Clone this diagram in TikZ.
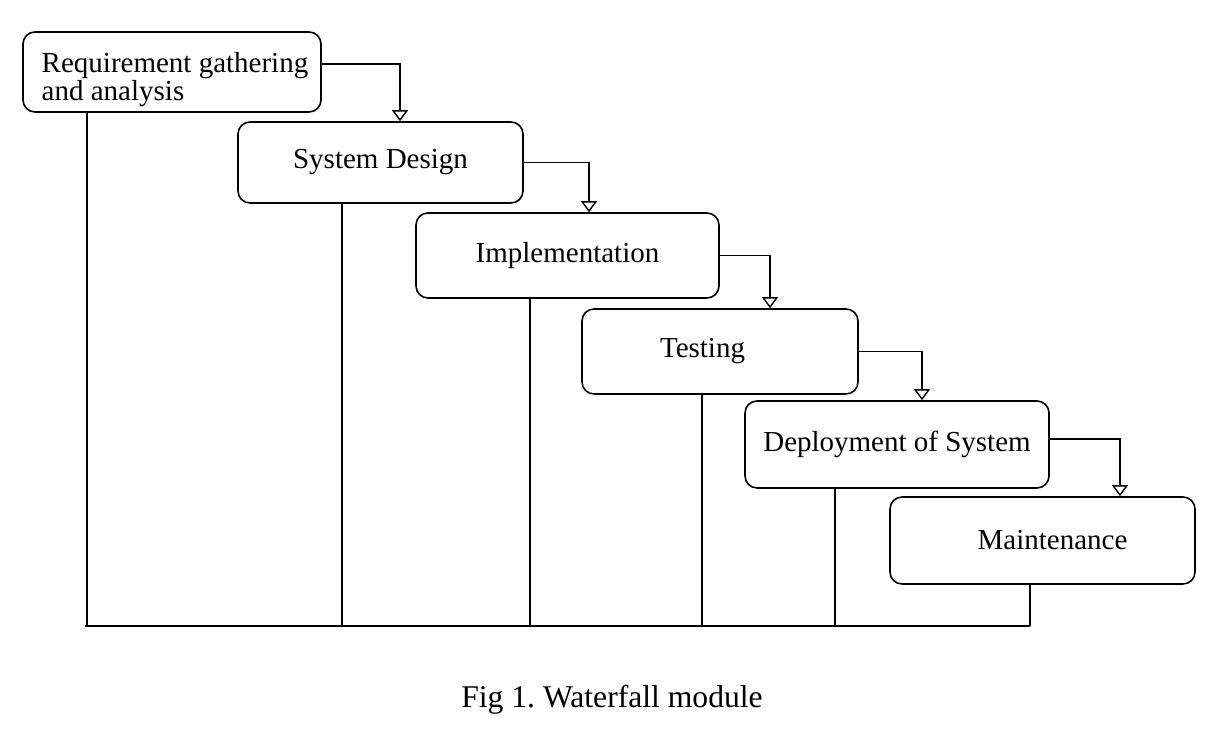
\documentclass[tikz,border=0pt]{standalone}
\usepackage{fontspec}
\setmainfont{Liberation Serif}
\usetikzlibrary{arrows.meta}
\frenchspacing
\begin{document}
\begin{tikzpicture}[line width=0.9pt,
  stage/.style={draw, rounded corners=0.24cm, font=\fontsize{16.5}{16}\selectfont, inner sep=0pt},
  flow/.style={line width=0.8pt, -{Triangle[open, width=3.2mm, length=2.2mm]}}]
\useasboundingbox (0,0) rectangle (24.48,15.08);
\node[stage, minimum width=5.96cm, minimum height=1.6cm, align=left] (req) at (3.44,13.64) {\rule{0pt}{0.7cm}\hspace*{0.12cm}Requirement gathering\\\hspace*{0.12cm}and analysis};
\node[stage, minimum width=5.7cm, minimum height=1.62cm] (design) at (7.61,11.83) {System Design};
\node[stage, minimum width=6.06cm, minimum height=1.7cm] (impl) at (11.35,9.97) {Implementation};
\node[stage, minimum width=5.52cm, minimum height=1.7cm] (test) at (14.4,8.05) {\hspace*{-0.7cm}Testing};
\node[stage, minimum width=6.08cm, minimum height=1.74cm] (deploy) at (17.94,6.19) {Deployment of System};
\node[stage, minimum width=6.1cm, minimum height=1.74cm] (maint) at (20.85,4.27) {\hspace*{0.4cm}Maintenance};
\draw[flow] ([yshift=0.16cm]req.east) -| ([xshift=0.39cm]design.north);
\draw[flow] (design.east) -| ([xshift=0.43cm]impl.north);
\draw[flow] (impl.east) -| ([xshift=1cm]test.north);
\draw[flow] (test.east) -| ([xshift=0.5cm]deploy.north);
\draw[flow] ([yshift=0.11cm]deploy.east) -| ([xshift=1.55cm]maint.north);
\coordinate (b1) at (1.74,2.56);
\coordinate (b2) at (6.84,2.56);
\coordinate (b3) at (10.6,2.56);
\coordinate (b4) at (14.04,2.56);
\coordinate (b5) at (16.7,2.56);
\coordinate (b6) at (20.6,2.56);
\draw (req.south -| b1) -- (b1);
\draw (design.south -| b2) -- (b2);
\draw (impl.south -| b3) -- (b3);
\draw (test.south -| b4) -- (b4);
\draw (deploy.south -| b5) -- (b5);
\draw (maint.south -| b6) -- (b6);
\draw ([xshift=-0.04cm]b1) -- (b6);
\node[font=\fontsize{18}{20}\selectfont] (caption) at (12.24,1.08) {Fig 1. Waterfall module};
\end{tikzpicture}
\end{document}
